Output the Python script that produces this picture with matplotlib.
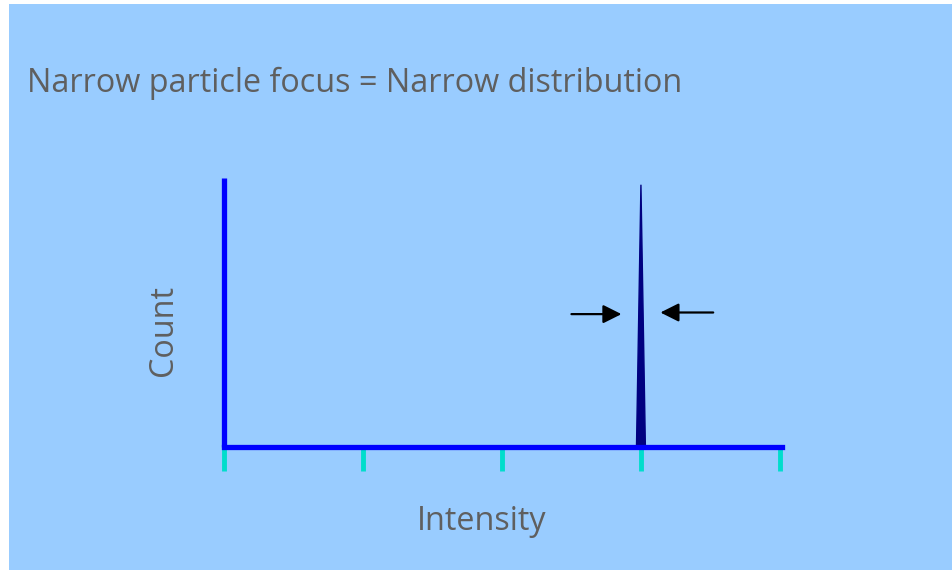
import matplotlib.pyplot as plt
from matplotlib.patches import Rectangle

# chart data
tick_positions = [0, 1, 2, 3, 4]
peak_x = [2.968, 3.0, 3.032]
peak_y = [0.0, 0.975, 0.0]

# arrows pointing at the peak: (start x, end x, y)
left_arrow = (2.50, 2.86, 0.494)
right_arrow = (3.52, 3.14, 0.50)

title_text = "Narrow particle focus = Narrow distribution"
xlabel_text = "Intensity"
ylabel_text = "Count"

bg = "#99ccff"
gray = "#5f5f5f"

fig = plt.figure(figsize=(9.52, 5.70), dpi=100)
fig.patch.set_facecolor("white")
# light blue slide background, sits behind the axes
fig.patches.append(Rectangle((9 / 952, 0), 1 - 9 / 952, 566 / 570,
                             transform=fig.transFigure, facecolor=bg,
                             edgecolor="none", zorder=-5))

ax = fig.add_axes([224 / 952, 123 / 570, 558 / 952, 269 / 570])
ax.set_zorder(2)
ax.set_facecolor("none")
ax.set_xlim(0, 4.015)
ax.set_ylim(0, 1)

# peak
ax.fill(peak_x, peak_y, color="#000080", zorder=3, clip_on=False)

# arrows
for x0, x1, y in [left_arrow, right_arrow]:
    ax.annotate("", xy=(x1, y), xytext=(x0, y),
                arrowprops=dict(arrowstyle="-|>", color="black", lw=1.6,
                                mutation_scale=28, shrinkA=0, shrinkB=0))

# axis styling
for side in ["top", "right"]:
    ax.spines[side].set_visible(False)
for side in ["left", "bottom"]:
    ax.spines[side].set_color("#0000ff")
    ax.spines[side].set_linewidth(3.8)
    ax.spines[side].set_zorder(4)
ax.spines["left"].set_capstyle("butt")
ax.spines["bottom"].set_capstyle("projecting")

ax.set_xticks(tick_positions)
ax.set_xticklabels([])
ax.set_yticks([])
ax.tick_params(axis="x", direction="out", length=17, width=3.5, color="#00ddcc", pad=0)

font = "Open Sans"
fig.text(27 / 952, 1 - 83 / 570, title_text, fontsize=23.3, color=gray,
         family=font, ha="left", va="center")
fig.text(482 / 952, 1 - 521 / 570, xlabel_text, fontsize=23.3, color=gray,
         family=font, ha="center", va="center")
fig.text(163 / 952, 1 - 330 / 570, ylabel_text, fontsize=23.3, color=gray,
         family=font, ha="center", va="center", rotation=90)

plt.savefig("out.png", dpi=100)
